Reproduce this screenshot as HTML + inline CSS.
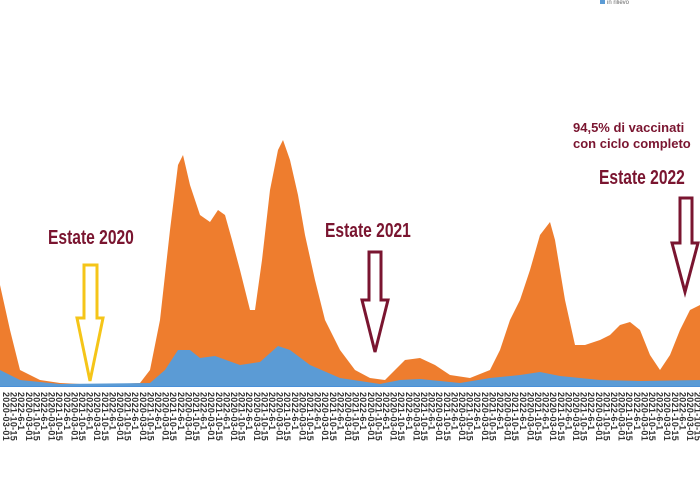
<!DOCTYPE html>
<html><head><meta charset="utf-8"><style>
body{margin:0;background:#fff;width:700px;height:493px;overflow:hidden;font-family:"Liberation Sans",sans-serif}
.lab{position:absolute;color:#7a1530;font-weight:bold;white-space:nowrap;transform-origin:0 0}
.big{font-size:20px;line-height:23px;transform:scaleX(0.78)}
#ax{position:absolute;left:0;top:392px;width:700px;height:90px;overflow:hidden}
#ax span{position:absolute;top:0;writing-mode:vertical-rl;font-size:9px;color:#333;font-weight:bold;letter-spacing:0.3px}
</style></head><body>
<svg width="700" height="493" style="position:absolute;left:0;top:0">
<line x1="0" y1="386" x2="700" y2="386" stroke="#4a90d9" stroke-width="2"/>
<path fill="#ee7d2e" d="M0,285 L10,330 L20,370 L40,380 L60,383 L100,385 L140,383 L150,370 L160,320 L170,230 L178,165 L183,155 L190,185 L200,215 L210,222 L218,210 L225,215 L232,240 L240,270 L250,310 L255,310 L262,260 L270,190 L278,150 L283,140 L290,160 L298,195 L305,235 L315,280 L325,320 L340,350 L355,370 L370,378 L385,380 L395,370 L405,360 L420,358 L435,365 L450,375 L470,378 L490,370 L500,350 L510,320 L520,300 L530,270 L540,235 L550,222 L555,240 L565,300 L575,345 L585,345 L600,340 L610,335 L620,325 L630,322 L640,330 L650,355 L660,370 L670,355 L680,330 L690,310 L700,305 L700,386 L0,386Z"/>
<path fill="#5b9bd5" d="M0,370 L20,380 L60,384 L150,383 L165,370 L178,350 L190,350 L200,358 L215,356 L240,365 L260,362 L278,346 L290,350 L310,365 L340,378 L380,384 L400,380 L420,379 L460,383 L490,378 L520,375 L540,372 L560,376 L600,380 L640,381 L700,380 L700,386 L0,386Z"/>
<path fill="none" stroke="#f5c518" stroke-width="3" d="M84,265 L97,265 L97,318 L103,318 L90,381 L77,318 L84,318Z"/>
<path fill="none" stroke="#7a1530" stroke-width="3" d="M369,252 L381,252 L381,300 L388,300 L375,352 L362,300 L369,300Z"/>
<path fill="none" stroke="#7a1530" stroke-width="3" d="M680,198 L692,198 L692,243 L698,243 L685,292 L672,243 L680,243Z"/>
<rect x="600" y="0" width="5" height="4" fill="#5b9bd5"/>
<text x="607" y="4" font-size="6" fill="#666" font-family="Liberation Sans">in rilievo</text>
</svg>
<div class="lab big" style="left:48px;top:227px">Estate 2020</div>
<div class="lab big" style="left:325px;top:220px">Estate 2021</div>
<div class="lab big" style="left:599px;top:167px">Estate 2022</div>
<div class="lab" style="left:573px;top:120px;font-size:13px;line-height:16px">94,5% di vaccinati<br>con ciclo completo</div>
<div id="ax"></div>
<script>
var ax=document.getElementById('ax'),h='';
for(var i=0;i<92;i++){var d=(i%3==0?'2020-03-01':(i%3==1?'2021-10-15':'2022-6-1'));
h+='<span style="left:'+(1+i*7.6)+'px">'+d+'</span>';}
ax.innerHTML=h;
</script>
</body></html>
